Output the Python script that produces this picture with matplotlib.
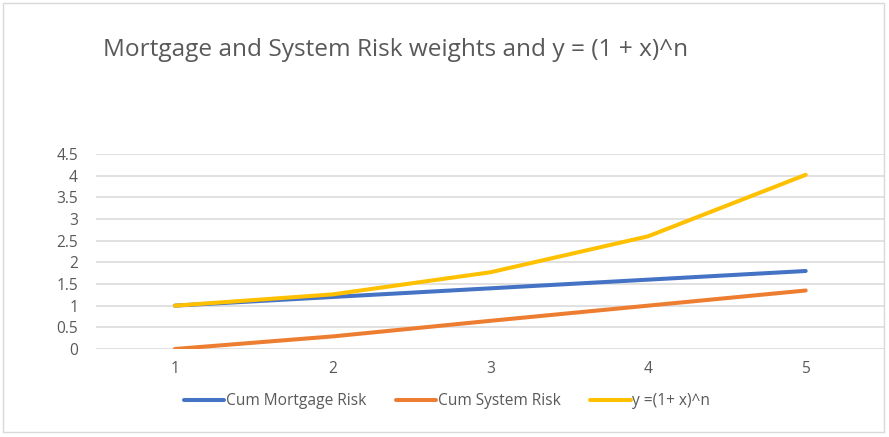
import matplotlib.pyplot as plt
from matplotlib.patches import Rectangle

# chart data
periods = ['1', '2', '3', '4', '5']
cum_mortgage = [1.0, 1.2, 1.4, 1.6, 1.8]
cum_system = [0.0, 0.29, 0.65, 1.0, 1.35]
compound = [1.0, 1.26, 1.77, 2.6, 4.02]
y_ticks = [0, 0.5, 1, 1.5, 2, 2.5, 3, 3.5, 4, 4.5]

plt.rcParams['font.family'] = ['Open Sans', 'DejaVu Sans']
text_col = '#595959'

fig = plt.figure(figsize=(8.89, 4.37), dpi=100)
ax = fig.add_axes([0.108, 0.2014, 0.887, 0.4462])

x = list(range(len(periods)))
ax.plot(x, cum_mortgage, color='#4472C4', lw=2.9, solid_capstyle='round', label='Cum Mortgage Risk')
ax.plot(x, cum_system, color='#ED7D31', lw=2.9, solid_capstyle='round', label='Cum System Risk')
ax.plot(x, compound, color='#FFC000', lw=2.9, solid_capstyle='round', label='y =(1+ x)^n')

ax.set_xlim(-0.5, len(periods) - 0.5)
ax.set_ylim(0, 4.5)
ax.set_xticks(x)
ax.set_xticklabels(periods)
ax.set_yticks(y_ticks)
ax.set_yticklabels([f'{v:g}' for v in y_ticks])
ax.tick_params(length=0, labelsize=11.2, colors=text_col, pad=9)
ax.tick_params(axis='y', pad=13)
ax.grid(axis='y', color='#D9D9D9', lw=1.1)
ax.set_axisbelow(True)
for s in ax.spines.values():
    s.set_visible(False)

fig.text(0.116, 0.885, 'Mortgage and System Risk weights and y = (1 + x)^n',
         fontsize=17.6, color=text_col, va='center', ha='left')

fig.legend(loc='center', bbox_to_anchor=(0.503, 0.082), ncol=3, frameon=False,
           fontsize=11.2, labelcolor=text_col, handlelength=2.6, handletextpad=0.1,
           columnspacing=1.9)

# outer chart border
fig.patches.append(Rectangle((0.003, 0.012), 0.991, 0.982, transform=fig.transFigure,
                             fill=False, edgecolor='#D9D9D9', lw=1))

fig.savefig('out.png', dpi=100)
